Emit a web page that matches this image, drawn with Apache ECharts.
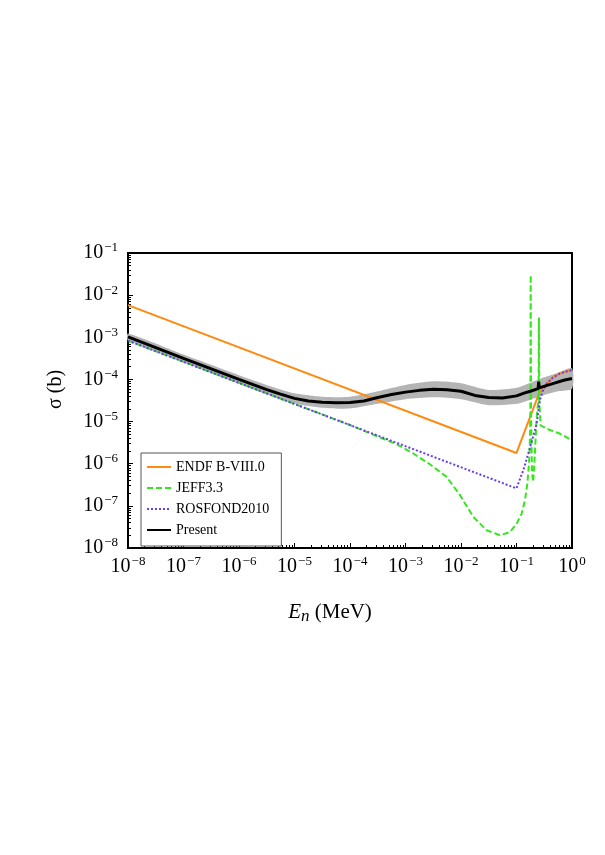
<!DOCTYPE html>
<html>
<head>
<meta charset="utf-8">
<script src="https://cdn.jsdelivr.net/npm/echarts@6/dist/echarts.min.js"></script>
<style>
html,body{margin:0;padding:0;background:#fff;}
#main{width:605px;height:855px;}
</style>
</head>
<body>
<div id="main"></div>
<script>
// energies in MeV, cross sections in barn
var endfE = [1e-8, 1e-1, 0.26, 0.3, 0.35, 0.45, 0.6, 0.8, 1];
var endfS = [5.8e-3, 1.8e-6, 5.0e-5, 5.8e-5, 8.0e-5, 1.1e-4, 1.36e-4, 1.56e-4, 1.68e-4];

var jeffE = [1e-8, 1e-6, 1e-4, 3.48e-4, 6.93e-4, 1.38e-3, 2.76e-3, 5.52e-3, 9.6e-3, 1.67e-2, 2.9e-2, 5.05e-2, 7.64e-2, 0.1007, 0.124, 0.142, 0.157, 0.168, 0.175,
  0.178, 0.1803, 0.1825, 0.19, 0.2, 0.214, 0.229, 0.25, 0.2535, 0.257, 0.272, 0.4, 0.6, 1];
var jeffS = [8.3e-4, 8.3e-5, 8.3e-6, 4.19e-6, 2.9e-6, 1.75e-6, 9.7e-7, 4.86e-7, 1.79e-7, 5.46e-8, 2.63e-8, 2.0e-8, 2.4e-8, 3.79e-8, 6.56e-8, 1.36e-7, 3.39e-7, 1.01e-6, 4.34e-6,
  2.0e-5, 3.0e-2, 2.0e-5, 6.3e-7, 3.7e-7, 1.6e-6, 1.07e-5, 4.0e-5, 2.95e-3, 3.2e-5, 8.1e-6, 6.3e-6, 5.2e-6, 3.6e-6];

var rosE = [1e-8, 1e-1, 0.133, 0.163, 0.2, 0.231, 0.263, 0.3, 0.35, 0.45, 0.6, 0.8, 1];
var rosS = [8.3e-4, 2.6e-7, 7.1e-7, 1.74e-6, 4.4e-6, 8.9e-6, 3.2e-5, 5.5e-5, 7.9e-5, 1.1e-4, 1.38e-4, 1.55e-4, 1.66e-4];

var presE = [1e-8, 1e-7, 1e-6, 3.16e-6, 5.6e-6, 1e-5, 1.78e-5, 3.16e-5, 5.6e-5, 1e-4, 1.78e-4, 3.16e-4, 5.6e-4, 1e-3, 1.78e-3, 3.16e-3, 5.6e-3,
  1e-2, 1.78e-2, 3.16e-2, 5.6e-2, 0.1, 0.141, 0.178, 0.245, 0.251, 0.257, 0.355, 0.5, 0.71, 1];
var presS = [1.02e-3, 3.16e-4, 1.0e-4, 5.75e-5, 4.47e-5, 3.55e-5, 3.09e-5, 2.88e-5, 2.79e-5, 2.82e-5, 3.09e-5, 3.72e-5, 4.37e-5, 5.0e-5, 5.5e-5, 5.82e-5, 5.69e-5,
  5.25e-5, 4.17e-5, 3.72e-5, 3.63e-5, 4.07e-5, 4.79e-5, 5.25e-5, 6.03e-5, 8.9e-5, 6.3e-5, 7.24e-5, 8.3e-5, 9.55e-5, 1.05e-4];

// uncertainty band of Present
var bandE = [1e-8, 1e-7, 1e-6, 3.16e-6, 1e-5, 3.16e-5, 1e-4, 3.16e-4, 1e-3, 3.16e-3, 1e-2, 3.16e-2, 0.1, 0.178, 0.316, 0.562, 1];
var bandLow = [8.51e-4, 2.57e-4, 7.94e-5, 4.47e-5, 2.69e-5, 2.14e-5, 2.04e-5, 2.63e-5, 3.39e-5, 3.76e-5, 3.39e-5, 2.45e-5, 2.63e-5, 3.31e-5, 4.27e-5, 5.25e-5, 6.03e-5];
var bandHigh = [1.23e-3, 3.89e-4, 1.26e-4, 7.41e-5, 4.68e-5, 3.89e-5, 3.89e-5, 5.25e-5, 7.41e-5, 9.02e-5, 8.13e-5, 5.62e-5, 6.31e-5, 8.32e-5, 1.12e-4, 1.45e-4, 1.82e-4];

var xMin = 1e-8, xMax = 1;
var yMin = 1e-8, yMax = 1e-1;
var legendNames = ['ENDF B-VIII.0', 'JEFF3.3', 'ROSFOND2010', 'Present'];

function zip(a, b) {
  var out = [];
  for (var i = 0; i < a.length; i++) out.push([a[i], b[i]]);
  return out;
}

var serif = 'Liberation Serif';
function powLabel(v) {
  var e = Math.round(Math.log(v) / Math.LN10);
  var s = e < 0 ? '\u2212' + (-e) : '' + e;
  return '{b|10}{e|' + s + '}';
}
var labelRich = {
  b: { fontFamily: serif, fontSize: 20, color: '#000' },
  e: { fontFamily: serif, fontSize: 13, color: '#000', padding: [0, 0, 10, 1] }
};

var chart = echarts.init(document.getElementById('main'));
chart.setOption({
  animation: false,
  backgroundColor: '#fff',
  grid: {
    left: 128, right: 33, top: 253, bottom: 307,
    show: true, borderColor: '#000', borderWidth: 2,
    outerBoundsMode: 'none'
  },
  legend: {
    orient: 'vertical',
    left: 141, top: 453,
    data: legendNames,
    borderColor: '#555', borderWidth: 1, borderRadius: 0,
    backgroundColor: '#fff',
    padding: [7, 12, 9, 5],
    itemWidth: 24, itemHeight: 12, itemGap: 7,
    itemStyle: { color: 'rgba(0,0,0,0)', borderWidth: 0 },
    textStyle: { fontFamily: serif, fontSize: 14, color: '#000' }
  },
  xAxis: {
    type: 'log', logBase: 10,
    min: xMin, max: xMax, interval: 1,
    name: '{i|E}{s|n} (MeV)',
    nameLocation: 'middle', nameGap: 52,
    nameTextStyle: {
      fontFamily: serif, fontSize: 21, color: '#000',
      padding: [0, 40, 0, 0],
      rich: {
        i: { fontFamily: serif, fontStyle: 'italic', fontSize: 21, color: '#000' },
        s: { fontFamily: serif, fontStyle: 'italic', fontSize: 17, color: '#000', padding: [8, 0, 0, 0] }
      }
    },
    axisLine: { lineStyle: { color: '#000', width: 2 } },
    axisTick: { inside: true, length: 5, lineStyle: { color: '#000' } },
    minorTick: { show: true, splitNumber: 9, length: 3, lineStyle: { color: '#000' } },
    splitLine: { show: false },
    axisLabel: { margin: 7, formatter: powLabel, rich: labelRich }
  },
  yAxis: {
    type: 'log', logBase: 10,
    min: yMin, max: yMax, interval: 1,
    name: '\u03c3 (b)',
    nameLocation: 'middle', nameGap: 62, nameRotate: 90,
    nameTextStyle: { fontFamily: serif, fontSize: 20, color: '#000', padding: [0, 0, 0, 22] },
    axisLine: { lineStyle: { color: '#000', width: 2 } },
    axisTick: { inside: true, length: 5, lineStyle: { color: '#000' } },
    minorTick: { show: true, splitNumber: 9, length: 3, lineStyle: { color: '#000' } },
    splitLine: { show: false },
    axisLabel: { margin: 10, formatter: powLabel, rich: labelRich }
  },
  series: [
    {
      name: 'band', type: 'custom', silent: true, z: 1,
      data: [0],
      renderItem: function (params, api) {
        var pts = [];
        for (var i = 0; i < bandE.length; i++) pts.push(api.coord([bandE[i], bandHigh[i]]));
        for (var j = bandE.length - 1; j >= 0; j--) pts.push(api.coord([bandE[j], bandLow[j]]));
        return {
          type: 'polygon',
          shape: { points: pts, smooth: 0.25 },
          style: { fill: '#b4b4b4', stroke: null }
        };
      }
    },
    {
      name: 'ENDF B-VIII.0', type: 'line', data: zip(endfE, endfS),
      symbol: 'none', z: 3,
      lineStyle: { color: '#ff8a10', width: 2 },
      itemStyle: { color: '#ff8a10' }
    },
    {
      name: 'JEFF3.3', type: 'line', data: zip(jeffE, jeffS),
      symbol: 'none', z: 3,
      lineStyle: { color: '#33e81a', width: 2, type: [6, 3] },
      itemStyle: { color: '#33e81a' }
    },
    {
      name: 'ROSFOND2010', type: 'line', data: zip(rosE, rosS),
      symbol: 'none', z: 3,
      lineStyle: { color: '#6a3cf2', width: 2, type: [2, 2] },
      itemStyle: { color: '#6a3cf2' }
    },
    {
      name: 'Present', type: 'line', data: zip(presE, presS),
      symbol: 'none', z: 4,
      lineStyle: { color: '#000', width: 3 },
      itemStyle: { color: '#000' }
    }
  ]
});
</script>
</body>
</html>
